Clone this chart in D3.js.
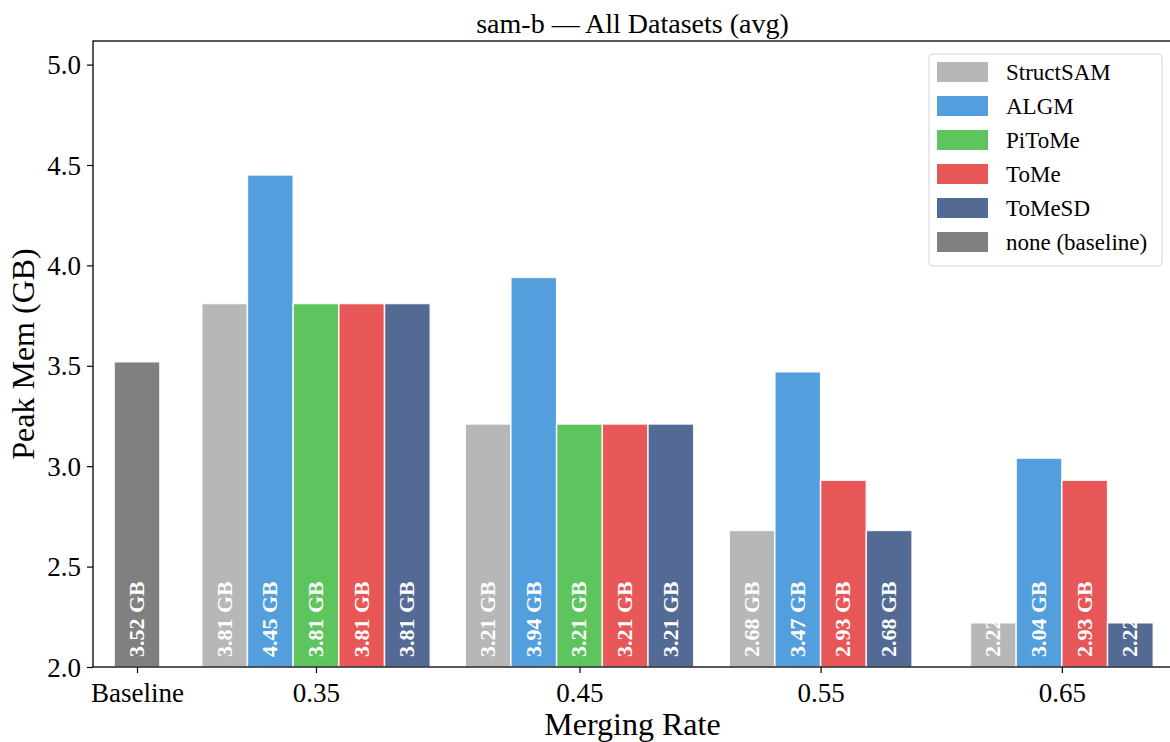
<!DOCTYPE html>
<html>
<head>
<meta charset="utf-8">
<script src="https://d3js.org/d3.v7.min.js"></script>
<style>
	body { margin: 0; background: #fff; }
	text { font-family: "Liberation Serif", "Times New Roman", serif; }
</style>
</head>
<body>
<script type="text/javascript">
// rates on the x axis (first one is the unmerged baseline)
var groups = ["Baseline", "0.35", "0.45", "0.55", "0.65"];
var methods = ["StructSAM", "ALGM", "PiToMe", "ToMe", "ToMeSD", "none (baseline)"];
var colors = ["#b7b7b7", "#539fdd", "#5ec55e", "#e85757", "#536a94", "#808080"];

// peak memory (GB) per method, one entry per group, null = not run
var structsam = [null, 3.81, 3.21, 2.68, 2.22];
var algm      = [null, 4.45, 3.94, 3.47, 3.04];
var pitome    = [null, 3.81, 3.21, null, null];
var tome      = [null, 3.81, 3.21, 2.93, 2.93];
var tomesd    = [null, 3.81, 3.21, 2.68, 2.22];
var baseline  = [3.52, null, null, null, null];

var yTicks = [2.0, 2.5, 3.0, 3.5, 4.0, 4.5, 5.0];

var series = [structsam, algm, pitome, tome, tomesd, baseline];

var W = 1170, H = 742;
var pL = 93, pR = 1172, pT = 41, pB = 667;

// layout of the groups, in bar widths (the present bars are packed around each centre)
var groupCentre = [0, 3.917, 9.683, 14.96, 20.24];

var x = d3.scaleLinear().domain([-0.963, 22.65]).range([pL, pR]);
var y = d3.scaleLinear().domain([2.0, 5.1175]).range([pB, pT]);

var svg = d3.select("body").append("svg")
	.attr("width", W)
	.attr("height", H);

// build bar list: only the bars that exist, centred on the group
var bars = [];
groups.forEach(function(g, gi) {
	var present = [];
	series.forEach(function(s, mi) {
		if (s[gi] !== null) present.push(mi);
	});
	present.forEach(function(mi, k) {
		var off = k - (present.length - 1) / 2;
		bars.push({g: gi, m: mi, v: series[mi][gi], u: groupCentre[gi] + off});
	});
});

var plot = svg.append("g");

plot.selectAll("rect.bar")
	.data(bars)
	.enter().append("rect")
	.attr("class", "bar")
	.attr("x", function(d) { return x(d.u - 0.5); })
	.attr("width", function(d) { return x(d.u + 0.5) - x(d.u - 0.5); })
	.attr("y", function(d) { return y(d.v); })
	.attr("height", function(d) { return y(2.0) - y(d.v); })
	.attr("fill", function(d) { return colors[d.m]; })
	.attr("stroke", "#fff")
	.attr("stroke-opacity", 0.85)
	.attr("stroke-width", 1.5);

// value labels, vertical, from the bottom of each bar
plot.selectAll("text.val")
	.data(bars)
	.enter().append("text")
	.attr("class", "val")
	.attr("transform", function(d) {
		return "translate(" + (x(d.u) + 7) + "," + (y(2.0) - 10) + ") rotate(-90)";
	})
	.attr("font-size", "22px")
	.attr("font-weight", "bold")
	.attr("fill", "#fff")
	.text(function(d) { return d.v.toFixed(2) + " GB"; });

// axes
var yAxis = d3.axisLeft(y).tickValues(yTicks).tickSize(6).tickPadding(6)
	.tickFormat(d3.format(".1f"));
var gy = svg.append("g").attr("transform", "translate(" + pL + ",0)").call(yAxis);

var xAxis = d3.axisBottom(x).tickValues(groupCentre).tickSize(6).tickPadding(6)
	.tickFormat(function(d, i) { return groups[i]; });
var gx = svg.append("g").attr("transform", "translate(0," + pB + ")").call(xAxis);

[gx, gy].forEach(function(g) {
	g.select(".domain").remove();
	g.selectAll("line").attr("stroke", "#000").attr("stroke-width", 1.2);
	g.selectAll("text")
		.attr("font-family", "Liberation Serif, serif")
		.attr("font-size", "27px")
		.attr("fill", "#000");
});
gx.selectAll("text").attr("dy", "0.85em");
gy.selectAll("text").attr("dy", "0.34em");

// frame (left, top, bottom; right edge falls on the image border)
svg.append("rect")
	.attr("x", pL)
	.attr("y", pT)
	.attr("width", pR - pL)
	.attr("height", pB - pT)
	.attr("fill", "none")
	.attr("stroke", "#000")
	.attr("stroke-width", 1.3);

// title and axis titles
svg.append("text")
	.attr("x", (pL + pR) / 2)
	.attr("y", 33)
	.attr("text-anchor", "middle")
	.attr("font-size", "28px")
	.text("sam-b \u2014 All Datasets (avg)");

svg.append("text")
	.attr("x", (pL + pR) / 2)
	.attr("y", 735)
	.attr("text-anchor", "middle")
	.attr("font-size", "32px")
	.text("Merging Rate");

svg.append("text")
	.attr("transform", "translate(34," + (pT + pB) / 2 + ") rotate(-90)")
	.attr("text-anchor", "middle")
	.attr("font-size", "32px")
	.text("Peak Mem (GB)");

// legend
var lg = svg.append("g").attr("transform", "translate(929,54)");
lg.append("rect")
	.attr("width", 233)
	.attr("height", 212)
	.attr("rx", 4)
	.attr("fill", "#fff")
	.attr("fill-opacity", 0.8)
	.attr("stroke", "#d6d6d6")
	.attr("stroke-width", 1);

var item = lg.selectAll("g.item")
	.data(methods)
	.enter().append("g")
	.attr("class", "item")
	.attr("transform", function(d, i) { return "translate(8," + (8 + i * 34) + ")"; });
item.append("rect")
	.attr("width", 51)
	.attr("height", 20)
	.attr("fill", function(d, i) { return colors[i]; });
item.append("text")
	.attr("x", 69)
	.attr("y", 18)
	.attr("font-size", "23px")
	.attr("fill", "#000")
	.text(function(d) { return d; });
</script>
</body>
</html>
